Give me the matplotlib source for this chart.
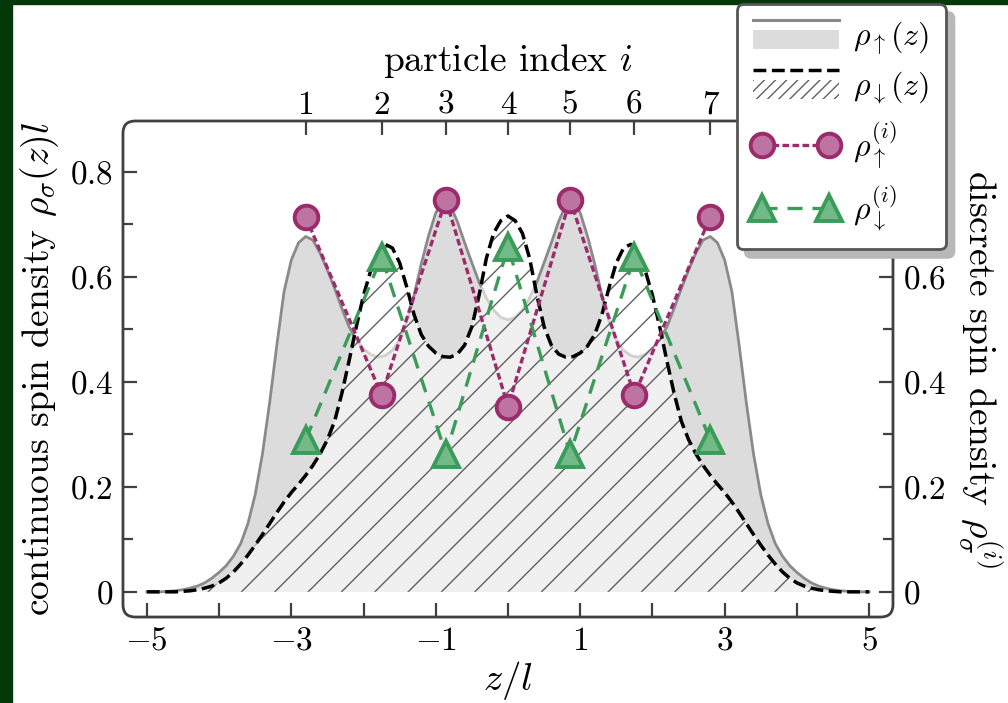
import numpy as np
import matplotlib
matplotlib.use('Agg')
import matplotlib.pyplot as plt
from matplotlib.patches import Rectangle, FancyBboxPatch, Patch
from matplotlib.lines import Line2D
from matplotlib.legend_handler import HandlerBase

plt.rcParams['font.family'] = 'cmr10'
plt.rcParams['mathtext.fontset'] = 'cm'
plt.rcParams['axes.unicode_minus'] = False
plt.rcParams['hatch.linewidth'] = 1.0

# continuous densities, sampled at z = -5.0, -4.9, ..., 5.0
z = np.linspace(-5, 5, 101)
rho_up = [0.000, 0.000, 0.000, 0.001, 0.002, 0.004, 0.007, 0.011, 0.017, 0.026,
          0.037, 0.050, 0.068, 0.092, 0.130, 0.185, 0.262, 0.360, 0.470, 0.572,
          0.632, 0.665, 0.677, 0.670, 0.645, 0.613, 0.578, 0.540, 0.505, 0.480,
          0.463, 0.452, 0.447, 0.450, 0.460, 0.480, 0.515, 0.565, 0.625, 0.678,
          0.722, 0.745, 0.737, 0.705, 0.665, 0.627, 0.590, 0.560, 0.537, 0.523,
          0.518,
          0.523, 0.537, 0.560, 0.590, 0.627, 0.665, 0.705, 0.737, 0.745, 0.722,
          0.678, 0.625, 0.565, 0.515, 0.480, 0.460, 0.450, 0.447, 0.452, 0.463,
          0.480, 0.505, 0.540, 0.578, 0.613, 0.645, 0.670, 0.677, 0.665, 0.632,
          0.572, 0.470, 0.360, 0.262, 0.185, 0.130, 0.092, 0.068, 0.050, 0.037,
          0.026, 0.017, 0.011, 0.007, 0.004, 0.002, 0.001, 0.000, 0.000, 0.000]
rho_dn = [0.000, 0.000, 0.000, 0.000, 0.000, 0.001, 0.002, 0.004, 0.007, 0.011,
          0.017, 0.026, 0.038, 0.053, 0.070, 0.089, 0.109, 0.130, 0.151, 0.171,
          0.189, 0.205, 0.222, 0.241, 0.263, 0.290, 0.325, 0.378, 0.440, 0.505,
          0.565, 0.612, 0.648, 0.662, 0.655, 0.627, 0.580, 0.528, 0.490, 0.468,
          0.455, 0.448, 0.447, 0.453, 0.470, 0.505, 0.565, 0.635, 0.683, 0.707,
          0.716,
          0.707, 0.683, 0.635, 0.565, 0.505, 0.470, 0.453, 0.447, 0.448, 0.455,
          0.468, 0.490, 0.528, 0.580, 0.627, 0.655, 0.662, 0.648, 0.612, 0.565,
          0.505, 0.440, 0.378, 0.325, 0.290, 0.263, 0.241, 0.222, 0.205, 0.189,
          0.171, 0.151, 0.130, 0.109, 0.089, 0.070, 0.053, 0.038, 0.026, 0.017,
          0.011, 0.007, 0.004, 0.002, 0.001, 0.000, 0.000, 0.000, 0.000, 0.000]

# discrete densities per particle
z_part = [-2.8, -1.75, -0.86, 0.0, 0.86, 1.75, 2.8]
part_labels = ['1', '2', '3', '4', '5', '6', '7']
rho_up_i = [0.714, 0.375, 0.747, 0.353, 0.747, 0.375, 0.714]
rho_dn_i = [0.290, 0.638, 0.263, 0.657, 0.263, 0.638, 0.290]

x_ticks = [-5, -4, -3, -2, -1, 0, 1, 2, 3, 4, 5]
x_ticklabels = ['$-5$', '', '$-3$', '', '$-1$', '', '$1$', '', '$3$', '', '$5$']
y_ticks = [0, 0.2, 0.4, 0.6, 0.8]
y_ticklabels = ['$0$', '$0.2$', '$0.4$', '$0.6$', '$0.8$']
y_minor = [0.1, 0.3, 0.5, 0.7]

gray_line = '#8a8a8a'
gray_fill = '#dcdcdc'
purple = '#9c2b6c'
purple_face = '#bd74a2'
green = '#3b9b58'
green_face = '#72bb89'
frame_col = '#404040'
hatch_col = '#606060'
dark_green = '#033808'


class FillLine(HandlerBase):
    # legend entry: filled box with the curve's line drawn above it
    def __init__(self, fill_kw, line_kw):
        super().__init__()
        self.fill_kw = fill_kw
        self.line_kw = line_kw

    def create_artists(self, legend, orig_handle, xdescent, ydescent,
                       width, height, fontsize, trans):
        x0, y0 = -xdescent, -ydescent
        rect = Rectangle((x0, y0 - 0.15 * height), width, 0.85 * height,
                         transform=trans, **self.fill_kw)
        line = Line2D([x0, x0 + width], [y0 + 1.15 * height] * 2,
                      transform=trans, **self.line_kw)
        return [rect, line]


fig = plt.figure(figsize=(10.08, 7.03), dpi=100)
fig.add_artist(Rectangle((0, 0), 12 / 1008, 1, transform=fig.transFigure,
                         color=dark_green, zorder=-5))
fig.add_artist(Rectangle((0, 1 - 4 / 703), 1, 4 / 703, transform=fig.transFigure,
                         color=dark_green, zorder=-5))

ax = fig.add_axes([0.122, 0.1223, 0.7639, 0.7056])
xlim = (-5.33, 5.33)
ylim = (-0.048, 0.897)

ax.fill_between(z, 0, rho_up, facecolor=gray_fill, edgecolor='none', zorder=1)
ax.plot(z, rho_up, color=gray_line, lw=2, zorder=2)
ax.fill_between(z, 0, rho_dn, facecolor=(1, 1, 1, 0.6), edgecolor=hatch_col,
                hatch='/', lw=0, zorder=3)
ax.plot(z, rho_dn, color='k', lw=2.5, ls='--', zorder=4)
ax.set_xlim(xlim)
ax.set_ylim(ylim)

up_style = dict(color=purple, ls=(0, (2, 1)), lw=2.4, marker='o', ms=17,
                mfc=purple_face, mec=purple, mew=2.8)
dn_style = dict(color=green, ls=(0, (4.5, 3)), lw=2.4, marker='^', ms=19,
                mfc=green_face, mec=green, mew=2.8)

ax_r = ax.twinx()
ax_r.set_ylim(ylim)
ax_r.plot(z_part, rho_up_i, **up_style)
ax_r.plot(z_part, rho_dn_i, **dn_style)

ax_t = ax.twiny()
ax_t.set_xlim(xlim)

for a in (ax, ax_r, ax_t):
    for s in a.spines.values():
        s.set_visible(False)

frame = FancyBboxPatch((0, 0), 1, 1, boxstyle='round,pad=0,rounding_size=0.016',
                       mutation_aspect=770 / 496, transform=ax.transAxes,
                       fill=False, ec=frame_col, lw=2, clip_on=False, zorder=10)
ax_t.add_patch(frame)

tick_kw = dict(direction='in', width=1.6, color=frame_col, labelsize=24)
ax.set_xticks(x_ticks)
ax.set_xticklabels(x_ticklabels)
ax.set_yticks(y_ticks)
ax.set_yticklabels(y_ticklabels)
ax.set_yticks(y_minor, minor=True)
ax.tick_params(which='major', length=10, top=False, right=False, pad=7, **tick_kw)
ax.tick_params(which='minor', length=7, top=False, right=False, direction='in',
               width=1.6, color=frame_col)

ax_r.set_yticks(y_ticks)
ax_r.set_yticklabels(y_ticklabels)
ax_r.set_yticks(y_minor, minor=True)
ax_r.tick_params(which='major', length=10, pad=7, **tick_kw)
ax_r.tick_params(which='minor', length=7, direction='in', width=1.6, color=frame_col)

ax_t.set_xticks(z_part)
ax_t.set_xticklabels(part_labels)
ax_t.tick_params(which='major', length=10, pad=1, **tick_kw)

ax.set_xlabel(r'$z/l$', fontsize=28, labelpad=2)
ax.set_ylabel(r'continuous spin density $\rho_\sigma(z)l$', fontsize=27, labelpad=6)
ax_t.set_xlabel(r'particle index $i$', fontsize=27, labelpad=14)
ax_r.set_ylabel(r'discrete spin density $\rho_\sigma^{(i)}$', fontsize=27,
                rotation=270, va='bottom', labelpad=8)

h_up = Patch()
h_dn = Patch()
h_up_i = Line2D([], [], **up_style)
h_dn_i = Line2D([], [], **dn_style)
hmap = {
    h_up: FillLine(dict(facecolor=gray_fill, edgecolor='none'),
                   dict(color=gray_line, lw=2.2)),
    h_dn: FillLine(dict(facecolor='white', edgecolor=hatch_col, hatch='///', lw=0),
                   dict(color='k', lw=2.5, ls='--')),
}
leg = fig.legend([h_up, h_dn, h_up_i, h_dn_i],
                 [r'$\rho_\uparrow(z)$', r'$\rho_\downarrow(z)$',
                  r'$\rho_\uparrow^{(i)}$', r'$\rho_\downarrow^{(i)}$'],
                 handler_map=hmap, loc='upper left', bbox_to_anchor=(0.731, 0.994),
                 bbox_transform=fig.transFigure, fontsize=23, numpoints=2,
                 handlelength=2.7, labelspacing=0.4, handletextpad=0.45,
                 borderpad=0.5, borderaxespad=0, fancybox=True, framealpha=1,
                 edgecolor='#555555',
                 shadow={'ox': 6, 'oy': -6, 'color': '0.72', 'alpha': 1})
leg.get_frame().set_linewidth(2)

fig.savefig('out.png', dpi=100)
